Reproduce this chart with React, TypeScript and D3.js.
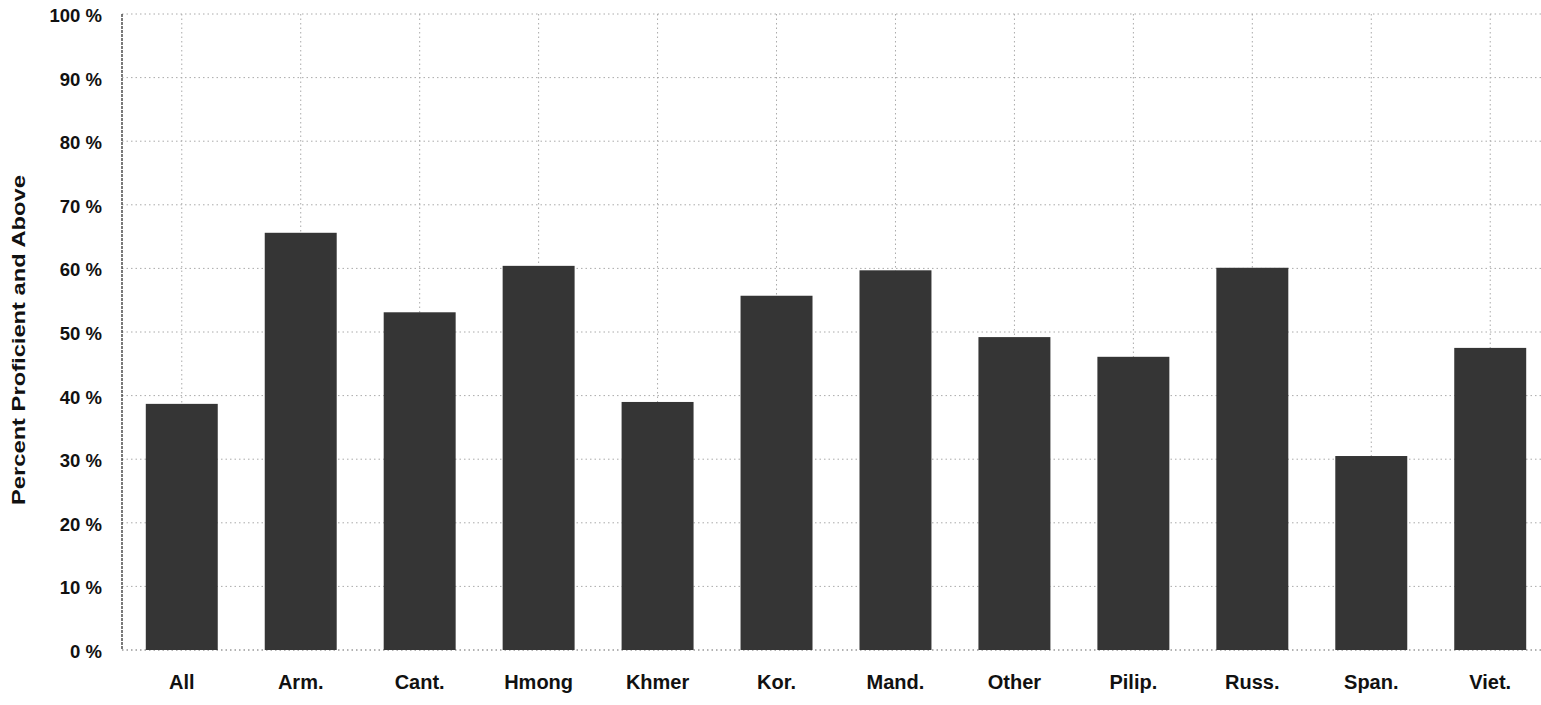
import React, { useRef, useEffect } from "react";
import * as d3 from "d3";

// languages along the x axis
const categories = ["All", "Arm.", "Cant.", "Hmong", "Khmer", "Kor.", "Mand.", "Other", "Pilip.", "Russ.", "Span.", "Viet."];
// percent proficient and above
const values = [38.7, 65.6, 53.1, 60.4, 39.0, 55.7, 59.7, 49.2, 46.1, 60.1, 30.5, 47.5];
const yTicks = [0, 10, 20, 30, 40, 50, 60, 70, 80, 90, 100];
const yTitle = "Percent Proficient and Above";

const App: React.FC = () => {
  const ref = useRef<SVGSVGElement | null>(null);

  useEffect(() => {
    if (!ref.current) return;
    const svg = d3.select(ref.current);
    svg.selectAll("*").remove();

    const width = 1541;
    const height = 705;
    const left = 122;
    const top = 14;
    const bottom = 650;

    const x = d3
      .scaleBand()
      .domain(categories)
      .range([left, left + 12 * 119])
      .paddingInner(0.395)
      .paddingOuter(0.2);

    const y = d3.scaleLinear().domain([0, 100]).range([bottom, top]);

    svg.attr("width", width).attr("height", height);
    svg.append("rect").attr("width", width).attr("height", height).attr("fill", "#ffffff");

    // horizontal dotted gridlines
    svg
      .append("g")
      .selectAll("line")
      .data(yTicks)
      .join("line")
      .attr("x1", left)
      .attr("x2", width)
      .attr("y1", (d) => y(d))
      .attr("y2", (d) => y(d))
      .attr("stroke", (d) => (d === 0 ? "#666" : "#aaa"))
      .attr("stroke-width", 1)
      .attr("stroke-dasharray", "1.5,3");

    // vertical dotted gridlines through the bar centres
    svg
      .append("g")
      .selectAll("line")
      .data(categories)
      .join("line")
      .attr("x1", (d) => (x(d) ?? 0) + x.bandwidth() / 2)
      .attr("x2", (d) => (x(d) ?? 0) + x.bandwidth() / 2)
      .attr("y1", y(100))
      .attr("y2", y(0))
      .attr("stroke", "#aaa")
      .attr("stroke-width", 1)
      .attr("stroke-dasharray", "1.5,3");

    // bars
    svg
      .append("g")
      .selectAll("rect")
      .data(values)
      .join("rect")
      .attr("x", (_, i) => x(categories[i]) ?? 0)
      .attr("y", (d) => y(d))
      .attr("width", x.bandwidth())
      .attr("height", (d) => y(0) - y(d))
      .attr("fill", "#353535");

    // y axis line
    svg
      .append("line")
      .attr("x1", left)
      .attr("x2", left)
      .attr("y1", y(100))
      .attr("y2", y(0))
      .attr("stroke", "#222")
      .attr("stroke-width", 1.2)
      .attr("stroke-dasharray", "3,1");

    // y tick labels
    svg
      .append("g")
      .selectAll("text")
      .data(yTicks)
      .join("text")
      .attr("x", 102)
      .attr("y", (d) => y(d) + 8)
      .attr("text-anchor", "end")
      .attr("font-family", "Liberation Sans, Arial, sans-serif")
      .attr("font-weight", "bold")
      .attr("font-size", 18.5)
      .attr("fill", "#111")
      .text((d) => `${d} %`);

    // x category labels
    svg
      .append("g")
      .selectAll("text")
      .data(categories)
      .join("text")
      .attr("x", (d) => (x(d) ?? 0) + x.bandwidth() / 2)
      .attr("y", 689)
      .attr("text-anchor", "middle")
      .attr("font-family", "Liberation Sans, Arial, sans-serif")
      .attr("font-weight", "bold")
      .attr("font-size", 20)
      .attr("fill", "#111")
      .text((d) => d);

    // y axis title
    svg
      .append("text")
      .attr("transform", `translate(25, 340) rotate(-90)`)
      .attr("text-anchor", "middle")
      .attr("font-family", "Liberation Sans, Arial, sans-serif")
      .attr("font-weight", "bold")
      .attr("font-size", 19)
      .attr("fill", "#111")
      .attr("textLength", 330)
      .attr("lengthAdjust", "spacingAndGlyphs")
      .text(yTitle);
  }, []);

  return <svg ref={ref} style={{ position: "absolute", left: 0, top: 0, display: "block" }} />;
};

export default App;
